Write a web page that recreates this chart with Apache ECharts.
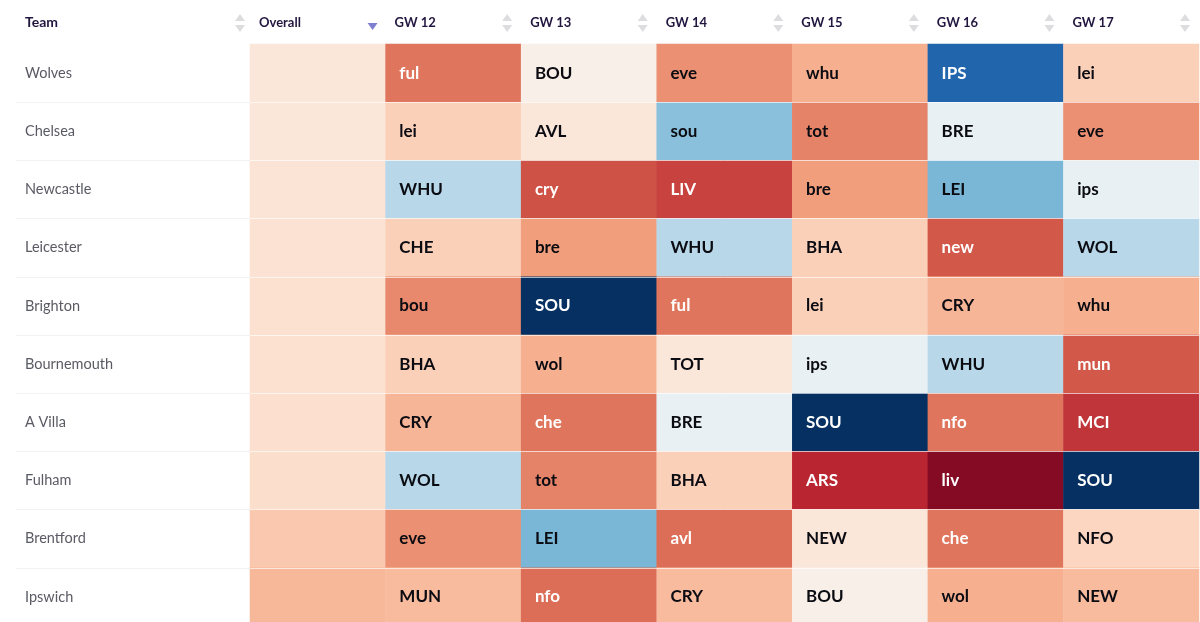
<!DOCTYPE html>
<html><head><meta charset="utf-8">
<style>html,body{margin:0;padding:0;background:#fff;overflow:hidden;height:622px}#c{width:1200px;height:640px}</style>
<script src="https://cdn.jsdelivr.net/npm/echarts@6/dist/echarts.min.js"></script>
</head><body><div id="c"></div>
<script>
const teams = ['Wolves','Chelsea','Newcastle','Leicester','Brighton','Bournemouth','A Villa','Fulham','Brentford','Ipswich'];
const columns = ['Overall','GW 12','GW 13','GW 14','GW 15','GW 16','GW 17'];
const overall = [44,44,43,42.5,42,42,41.5,41,36.5,33.5];
const opponents = [
  ['ful','BOU','eve','whu','IPS','lei'],
  ['lei','AVL','sou','tot','BRE','eve'],
  ['WHU','cry','LIV','bre','LEI','ips'],
  ['CHE','bre','WHU','BHA','new','WOL'],
  ['bou','SOU','ful','lei','CRY','whu'],
  ['BHA','wol','TOT','ips','WHU','mun'],
  ['CRY','che','BRE','SOU','nfo','MCI'],
  ['WOL','tot','BHA','ARS','liv','SOU'],
  ['eve','LEI','avl','NEW','che','NFO'],
  ['MUN','nfo','CRY','BOU','wol','NEW']
];
const scores = [
  [23,47,27,32,90,38],
  [38,44,71,25,54,27],
  [64,18,16,29,73,54],
  [38,29,64,38,19,64],
  [26,100,23,38,33,32],
  [38,32,44,54,64,19],
  [33,23,54,100,23,14],
  [64,25,38,12,4,100],
  [27,73,22,44,23,39],
  [34,22,34,47,32,34]
];
const ramp = ['#67001f','#b2182b','#d6604d','#f4a582','#fddbc7','#f7f7f7','#d1e5f0','#92c5de','#4393c3','#2166ac','#053061'];
const font = 'Lato, "Open Sans", sans-serif';
const gridL = 250, gridR = 1199, gridT = 44, rowH = 58.2;
const colW = (gridR - gridL) / columns.length;

const cells = [];
teams.forEach((t, r) => {
  cells.push({ value: [0, r, overall[r]], label: { show: false } });
  scores[r].forEach((v, c) => {
    const light = v < 24 || v > 85;
    cells.push({ value: [c + 1, r, v], name: opponents[r][c], label: { color: light ? '#fff' : '#0b0b12' } });
  });
});

const arrows = [];
const tri = (x, y, dir, fill) => ({ type: 'polygon', silent: true, z: 10,
  shape: { points: [[x - 5, y], [x + 5, y], [x, y + dir * 7]] }, style: { fill } });
for (let i = -1; i < columns.length; i++) {
  const x = i < 0 ? 240 : gridL + colW * (i + 1) - 14;
  if (i === 0) { arrows.push(tri(x + 1, 23, 1, '#7f7fd1')); continue; }
  arrows.push(tri(x, 21, -1, '#dddddf'));
  arrows.push(tri(x, 25, 1, '#dddddf'));
}

const chart = echarts.init(document.getElementById('c'), null, { renderer: 'canvas' });
chart.setOption({
  animation: false,
  backgroundColor: '#fff',
  title: { text: 'Team', left: 20, top: 10, textStyle: { fontFamily: font, fontSize: 14, fontWeight: 700, color: '#22163f' } },
  graphic: arrows,
  grid: { left: gridL, top: gridT, width: gridR - gridL, height: rowH * teams.length, containLabel: false, outerBoundsMode: 'none' },
  visualMap: { show: false, type: 'continuous', min: 0, max: 100, dimension: 2, seriesIndex: 0, inRange: { color: ramp } },
  xAxis: [
    { type: 'category', data: columns, position: 'top', show: false },
    { type: 'category', data: columns.concat(['']), position: 'top', boundaryGap: false,
      axisLine: { show: false }, axisTick: { show: false }, splitLine: { show: false },
      axisLabel: { interval: 0, align: 'left', margin: 15, padding: [0, 0, 0, 9], fontFamily: font, fontSize: 13, fontWeight: 700, color: '#22163f' } }
  ],
  yAxis: [
    { type: 'category', data: teams, inverse: true, position: 'left',
      axisLine: { show: false }, splitLine: { show: false },
      axisTick: { show: true, length: 234, interval: i => i > 0, lineStyle: { color: '#f2f2f4', width: 1 } },
      axisLabel: { align: 'left', margin: 225, fontFamily: font, fontSize: 14.5, color: '#5a5a64' } },
    { type: 'category', data: teams, inverse: true, position: 'left', z: 5,
      axisLine: { show: false }, axisLabel: { show: false }, splitLine: { show: false },
      axisTick: { show: true, inside: true, length: gridR - gridL, interval: i => i > 0, lineStyle: { color: 'rgba(255,255,255,0.65)', width: 1 } } }
  ],
  series: [{
    type: 'heatmap', xAxisIndex: 0, yAxisIndex: 0, data: cells, silent: true, progressive: 0,
    emphasis: { disabled: true },
    itemStyle: { borderWidth: 0 },
    label: { show: true, position: 'insideLeft', distance: 14,
      formatter: p => p.name, fontFamily: font, fontSize: 17, fontWeight: 700 }
  }]
});
</script></body></html>
